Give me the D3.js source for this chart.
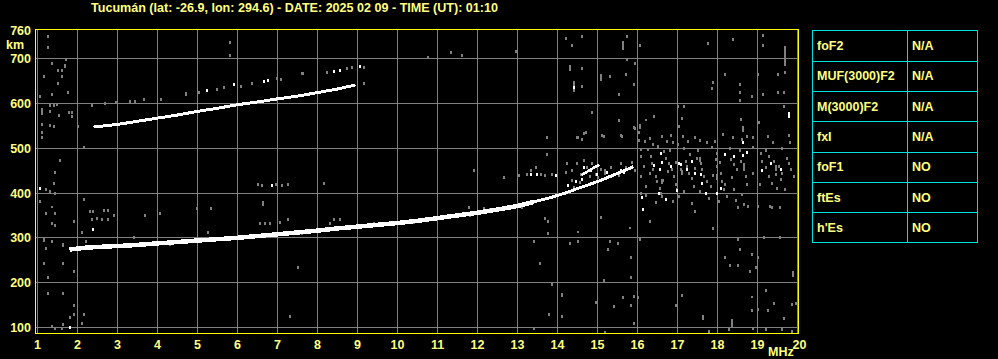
<!DOCTYPE html>
<html><head><meta charset="utf-8">
<script src="https://cdn.jsdelivr.net/npm/d3@7"></script>
<style>html,body{margin:0;padding:0;background:#000;overflow:hidden}svg{display:block}</style>
</head><body><svg id="c" width="998" height="359"></svg>
<script>
const title = "Tucumán (lat: -26.9, lon: 294.6) - DATE: 2025 02 09 - TIME (UT): 01:10";
const freqTicks = d3.range(1, 21);
const heightTicks = [100, 200, 300, 400, 500, 600, 700];
const topLabel = 760;
const tableLabels = ["foF2", "MUF(3000)F2", "M(3000)F2", "fxI", "foF1", "ftEs", "h'Es"];
const tableValues = ["N/A", "N/A", "N/A", "N/A", "NO", "NO", "NO"];

// main F trace (first hop)
const traceO = [[1.8,274],[2.2,278],[2.8,281],[3.3,283],[3.9,287],[4.4,290],[5.0,294],[5.5,297],[6.0,300],[6.5,304],[7.0,308],[7.5,312],[8.0,316],[8.5,321],[9.0,325],[9.5,329],[10.0,333],[10.5,338],[11.0,344],[11.5,350],[12.0,356],[12.5,363],[13.0,371],[13.4,380]];
const traceOhigh = [[13.4,380],[13.8,389],[14.2,400],[14.5,410],[14.8,419],[15.1,429],[15.4,440],[15.7,451],[15.9,459]];
const traceX = [[14.6,440],[14.75,448],[14.9,456],[15.05,463]];
// second hop trace
const traceM = [[2.4,547],[3.0,553],[3.5,560],[4.0,567],[4.5,574],[5.0,582],[5.5,589],[6.0,597],[6.5,603],[7.0,610],[7.5,616],[8.0,624],[8.5,632],[8.95,641]];
// faint third trace
const faintGray = [[5.48,631],[5.65,637],[6.1,639],[6.35,646],[6.98,656],[7.08,654],[7.6,667],[8.23,671],[8.73,678],[8.85,680],[9.16,682]];
const faintWhite = [[5.23,630],[5.9,643],[6.65,650],[6.77,652],[8.4,673],[8.56,674],[9.06,683]];

const whiteDots = [[1.05,411],[2.4,319],[1.8,102],[6.85,417],[16.15,364],[14.4,636],[19.78,573],
 [16.58,490],[16.41,462],[16.56,453],[16.83,460],[17.03,468],[17.08,464],[17.24,453],[17.45,444],[17.58,442],[17.62,422],[16.53,401],[16.99,406],[17.7,401],[17.99,401],[18.08,412],[18.41,483],[18.64,484],[18.74,492],[19.33,466],[19.58,454],[18.64,514],
 [13.33,442],[13.49,443],[13.95,440],[14.66,458],[14.7,447],[14.83,451],[14.91,458],[14.99,443],[15.24,447],[15.41,443],[15.58,451],[15.66,447],
 [14.25,418],[14.45,426],[14.6,432],[16.6,470],[16.7,386],[17.35,471],[18.2,488],[19.1,452],[16.1,392]];

const grayDots = [
 [1.25,750],[1.25,726],[1.72,699],[1.35,690],[1.5,674],[1.6,674],[1.7,683],[1.15,661],[1.6,661],[1.5,645],[1.75,625],[1.35,620],[1.05,616],[2.35,596],[2.68,600],[2.95,603],[3.3,605],[3.43,605],[3.65,609],[4.1,609],[4.7,620],[5.03,625],[1.3,596],[1.4,596],[1.48,598],[1.3,583],[1.78,580],[1.85,580],[1.53,574],[1.85,571],[1.1,553],[1.3,552],[1.4,550],[2.0,549],[1.1,535],[1.1,524],[2.15,502],[1.55,473],[1.45,446],[5.8,708],[1.7,685],
 [1.4,422],[1.2,408],[1.3,404],[1.45,400],[1.2,355],[1.45,355],[1.35,332],[1.45,328],[1.9,337],[2.15,386],[2.3,359],[2.4,359],[2.65,361],[2.75,362],[2.9,350],[2.5,345],[2.6,343],[2.75,343],[2.35,341],[2.1,314],[2.2,294],[1.35,292],[1.2,277],[3.4,301],[3.68,352],[4.05,355],[1.15,243],[1.65,243],[1.9,225],[1.25,212],[1.25,176],[1.65,176],[1.9,151],[1.9,131],[2.15,131],[2.1,111],[1.35,104],[1.45,99],[1.6,99],[1.65,107],[4.98,366],[5.35,366],[5.25,314],[6.55,332],[6.68,332],[6.8,332],[7.05,335],[7.25,343],[7.5,234],[7.3,125],[6.5,420],[6.6,418],[6.95,419],[7.1,417],[7.25,421],[8.15,422],[8.3,332],[8.4,341],[8.55,341],
 [10.75,703],[11.35,714],[11.6,708],[12.95,717],[4.7,623],[7.63,667],[9.15,645],
 [3.55,287],[4.3,286],[5.3,299],[7.6,310],[9.4,333],[10.4,336],[11.8,352],[12.3,364],[13.1,369],[6.2,303],[8.8,321],
 [11.78,368],[12.15,366],[13.7,345],[13.75,337],[13.75,310],[13.4,292],[13.55,243],[13.85,198],[13.78,129],[14.1,125],[13.4,98],[14.5,294],[14.3,288],[15.1,346],[15.3,292],[15.5,288],[15.25,274],[15.15,207],[14.95,156],[15.4,147],[15.2,90],[15.85,257],[15.85,212],[15.65,168],[15.9,170],[16.0,168],[15.85,151],[15.9,111],[16.3,337],[16.45,380],[16.9,382],[16.05,297],[17.1,172],[16.95,151],[17.45,359],[17.35,377],[17.9,323],[17.8,93],[18.03,382],[18.5,368],[18.65,375],[18.75,372],[19.0,371],[18.5,297],[19.55,301],[19.3,372],[19.35,368],[19.55,369],[18.2,257],[18.3,239],[18.5,239],[18.55,274],[18.85,265],[18.95,234],[18.8,225],[19.0,257],[19.2,183],[18.85,140],[19.4,154],[19.85,153],[19.95,155],[19.65,122],[18.28,96],[18.9,98],[19.2,96],[19.6,97],[19.85,92],
 [14.2,746],[14.35,730],[14.6,750],[15.75,750],[16.05,730],[15.75,699],[15.95,690],[14.6,679],[14.6,638],[15.3,661],[15.7,665],[15.9,643],[15.53,620],[17.75,734],[18.4,743],[19.15,752],[19.15,730],[19.68,670],[18.18,665],[19.0,665],[19.5,665],[17.9,647],[17.87,634],[18.55,643],[18.55,625],[18.55,607],[18.85,616],[19.15,620],[19.5,626],[19.65,626],[19.65,594],[17.0,594],[17.15,594],[14.85,580],[15.53,562],[16.4,571],[15.95,545],[17.03,549],[17.1,567],[18.58,565],[19.03,558],[14.7,535],[15.15,527],[15.6,527],[14.5,524],[14.6,520],
 [16.04,536],[16.19,516],[16.31,523],[16.39,509],[16.61,527],[16.74,516],[16.84,529],[16.89,514],[17.01,509],[17.14,527],[17.26,516],[17.44,525],[17.56,518],[17.74,514],[17.94,516],[18.14,532],[18.39,525],[18.61,520],[18.74,527],[18.89,525],[19.26,527],[19.39,514],[19.79,529],[19.81,514],
 [16.08,483],[16.16,460],[16.08,438],[16.2,416],[16.08,401],[16.33,483],[16.37,468],[16.39,453],[16.45,438],[16.49,427],[16.55,412],[16.58,401],[16.62,393],[16.66,494],[16.7,479],[16.78,468],[16.87,453],[16.91,438],[16.95,419],[16.99,408],[17.03,393],[17.08,453],[17.2,472],[17.24,460],[17.28,445],[17.37,434],[17.41,416],[17.49,479],[17.58,468],[17.62,453],[17.66,438],[17.74,427],[17.83,416],[17.95,475],[17.99,460],[18.08,445],[18.12,427],[18.16,408],[18.24,393],[18.33,475],[18.41,464],[18.49,453],[18.58,472],[18.66,453],[18.7,438],[18.74,419],[18.41,408],[19.08,490],[19.12,472],[19.2,457],[19.28,438],[19.37,423],[19.49,412],[19.58,431],[19.62,445],[19.53,460],[19.74,479],[19.78,468],[19.83,453],[19.91,438],[19.28,483],[19.41,472],
 [16.25,498],[16.5,505],[16.8,497],[17.15,500],[17.5,496],[17.85,502],[18.0,490],[18.3,500],[18.55,495],[18.9,503],[19.2,497],[19.6,500],
 [16.3,445],[16.65,430],[16.95,470],[17.3,488],[17.55,405],[17.9,440],[18.2,420],[18.35,435],[18.6,398],[18.9,445],[19.05,420],[19.45,442],[19.7,410],[16.2,395],[17.15,405],[17.8,388],[18.45,385],[16.75,448],[17.45,455],[18.05,470],
 [11.91,452],[12.66,436],[13.03,440],[13.24,443],[13.33,451],[13.45,458],[13.58,443],[13.7,440],[13.87,443],[13.99,440],[14.2,447],[14.24,466],[14.37,451],[14.49,466],[14.58,443],[14.66,473],[14.74,458],[14.87,466],[14.95,443],[15.08,454],[15.2,451],[15.33,458],[15.41,443],[15.58,466],[15.7,458],[15.87,469],[15.95,451],
 [13.74,488],[14.49,525],[14.66,533],[15.12,529],[15.58,529],[15.91,548],[16.03,518],[16.08,499],[13.74,525],
 [14.35,430],[14.55,425],[14.8,437],[15.0,435],[15.2,445],[14.4,413],[15.55,440]
];
// vertical streaks: [freq, h1, h2]
const streaks = [[1.1,575,590],[5.8,733,740],[1.05,377,384],[1.35,366,371],[1.15,290,300],[1.65,280,288],[6.63,372,383],[1.8,120,125],
 [14.1,167,176],[14.5,310,316],[15.8,320,325],[17.65,116,127],[18.35,98,120],[19.17,298,305],[19.9,212,225],[18.85,165,170],[19.0,136,144],[19.25,134,142],
 [15.65,720,740],[14.3,672,685],[14.4,625,650],[15.1,650,665],[19.68,683,728],[16.2,560,565],[16.05,542,553],[18.63,535,549],[19.78,567,580],
 [16.6,420,432],[17.1,440,452],[18.0,430,442],[18.65,455,468],[19.45,450,462],[17.55,470,480]];

const svg = d3.select("#c");
svg.append("rect").attr("width", 998).attr("height", 359).attr("fill", "#000");

const x = d3.scaleLinear().domain([2, 20]).range([77.5, 797.5]);
const y = d3.scaleLinear().domain([100, 700]).range([327.5, 58.5]);
const fMin = 0.95, fMax = 20.025, hMin = 86.6, hMax = 764.7;

const font = "'Liberation Sans', Arial, sans-serif";
const txtCol = "#ffff80";
const gridCol = "#808080";

// grid
const g = svg.append("g").attr("shape-rendering", "crispEdges");
g.selectAll("line.v").data(freqTicks).join("line")
  .attr("x1", d => x(d)).attr("x2", d => x(d))
  .attr("y1", y(hMax)).attr("y2", y(hMin))
  .attr("stroke", gridCol).attr("stroke-width", 1);
g.selectAll("line.h").data(heightTicks).join("line")
  .attr("y1", d => y(d)).attr("y2", d => y(d))
  .attr("x1", x(fMin)).attr("x2", x(fMax))
  .attr("stroke", gridCol).attr("stroke-width", 1);

// echoes
const e = svg.append("g").attr("shape-rendering", "crispEdges");
e.selectAll("rect.s").data(streaks).join("rect")
  .attr("x", d => Math.round(x(d[0])) - 1).attr("y", d => y(d[2]))
  .attr("width", 2).attr("height", d => y(d[1]) - y(d[2]))
  .attr("fill", d => d[0] === 19.78 ? "#fff" : gridCol);
e.selectAll("rect.g").data(grayDots.concat(faintGray)).join("rect")
  .attr("x", d => Math.round(x(d[0])) - 1).attr("y", d => Math.round(y(d[1])) - 1)
  .attr("width", 2).attr("height", 3).attr("fill", gridCol);

const line = d3.line().x(d => x(d[0])).y(d => y(d[1]));
e.append("path").datum(traceO).attr("d", line).attr("fill", "none").attr("stroke", "#fff").attr("stroke-width", 4.5);
e.append("path").datum(traceOhigh).attr("d", line).attr("fill", "none").attr("stroke", "#fff").attr("stroke-width", 3);
e.append("path").datum(traceX).attr("d", line).attr("fill", "none").attr("stroke", "#fff").attr("stroke-width", 2.5);
e.append("path").datum(traceM).attr("d", line).attr("fill", "none").attr("stroke", "#fff").attr("stroke-width", 3);

e.selectAll("rect.w").data(whiteDots.concat(faintWhite)).join("rect")
  .attr("x", d => Math.round(x(d[0])) - 1).attr("y", d => Math.round(y(d[1])) - 1)
  .attr("width", 2).attr("height", 3).attr("fill", "#fff");

// frame
svg.append("rect").attr("shape-rendering", "crispEdges")
  .attr("x", x(fMin)).attr("y", y(hMax))
  .attr("width", x(fMax) - x(fMin)).attr("height", y(hMin) - y(hMax))
  .attr("fill", "none").attr("stroke", "#ffff00").attr("stroke-width", 1);

// x labels
svg.selectAll("text.xt").data(freqTicks).join("text")
  .attr("x", d => x(d) + (d === 20 ? 2 : 0)).attr("y", 349)
  .attr("text-anchor", "middle").attr("fill", txtCol)
  .attr("font-family", font).attr("font-weight", "bold").attr("font-size", 12.5)
  .text(d => d);
svg.append("text").attr("x", 768).attr("y", 356).attr("fill", txtCol)
  .attr("font-family", font).attr("font-weight", "bold").attr("font-size", 12.5).text("MHz");

// y labels
svg.selectAll("text.yt").data(heightTicks).join("text")
  .attr("x", 31).attr("y", d => y(d) + 4.5)
  .attr("text-anchor", "end").attr("fill", txtCol)
  .attr("font-family", font).attr("font-weight", "bold").attr("font-size", 12.5)
  .text(d => d);
svg.append("text").attr("x", 31).attr("y", 35).attr("text-anchor", "end").attr("fill", txtCol)
  .attr("font-family", font).attr("font-weight", "bold").attr("font-size", 12.5).text(topLabel);
svg.append("text").attr("x", 6).attr("y", 49).attr("fill", txtCol)
  .attr("font-family", font).attr("font-weight", "bold").attr("font-size", 12.5).text("km");

// title
svg.append("text").attr("x", 91).attr("y", 11.5).attr("fill", txtCol)
  .attr("font-family", font).attr("font-weight", "bold").attr("font-size", 12.5)
  .attr("textLength", 407).attr("lengthAdjust", "spacingAndGlyphs")
  .text(title);

// table
const tx0 = 812.5, txm = 907.5, tx1 = 977.5, ty0 = 30.5, rowH = 30.3;
const t = svg.append("g").attr("shape-rendering", "crispEdges");
const cyan = "#00e0e0";
t.append("rect").attr("x", tx0).attr("y", ty0).attr("width", tx1 - tx0).attr("height", rowH * tableLabels.length)
  .attr("fill", "none").attr("stroke", cyan);
t.append("line").attr("x1", txm).attr("x2", txm).attr("y1", ty0).attr("y2", ty0 + rowH * tableLabels.length).attr("stroke", cyan);
t.selectAll("line.r").data(d3.range(1, tableLabels.length)).join("line")
  .attr("x1", tx0).attr("x2", tx1).attr("y1", i => Math.round(ty0 + i * rowH) + 0.5).attr("y2", i => Math.round(ty0 + i * rowH) + 0.5)
  .attr("stroke", cyan);
t.selectAll("text.l").data(tableLabels).join("text")
  .attr("x", 817).attr("y", (d, i) => ty0 + i * rowH + rowH / 2 + 4.5)
  .attr("fill", txtCol).attr("font-family", font).attr("font-weight", "bold").attr("font-size", 12.5)
  .text(d => d);
t.selectAll("text.v").data(tableValues).join("text")
  .attr("x", 912).attr("y", (d, i) => ty0 + i * rowH + rowH / 2 + 4.5)
  .attr("fill", txtCol).attr("font-family", font).attr("font-weight", "bold").attr("font-size", 12.5)
  .text(d => d);
</script></body></html>
